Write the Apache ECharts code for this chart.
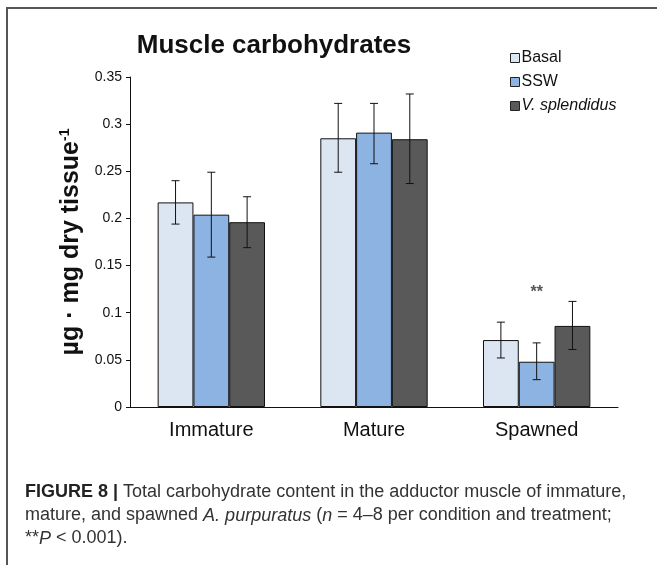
<!DOCTYPE html>
<html>
<head>
    <meta charset="utf-8">
    <title>muscle carbohydrates</title>
    <script src="https://cdn.jsdelivr.net/npm/echarts@6/dist/echarts.min.js"></script>
    <style>
        body { margin: 0; background: #fff; }
    </style>
</head>
<body>
<div id="main" style="width: 657px;height:565px;"></div>

<script type="text/javascript">
    // data
    var stages = ['Immature', 'Mature', 'Spawned'];
    var groups = ['Basal', 'SSW', 'V. splendidus'];
    var colors = ['#dce6f2', '#8db3e2', '#595959'];

    var basal = [0.217, 0.285, 0.071];
    var ssw = [0.204, 0.291, 0.048];
    var vsp = [0.196, 0.284, 0.086];

    // error bar ends (upper, lower)
    var basalHi = [0.240, 0.322, 0.090];
    var basalLo = [0.194, 0.249, 0.052];
    var sswHi = [0.249, 0.322, 0.068];
    var sswLo = [0.159, 0.258, 0.029];
    var vspHi = [0.223, 0.332, 0.112];
    var vspLo = [0.169, 0.237, 0.061];

    var yTicks = [0, 0.05, 0.1, 0.15, 0.2, 0.25, 0.3, 0.35];

    var values = [basal, ssw, vsp];
    var highs = [basalHi, sswHi, vspHi];
    var lows = [basalLo, sswLo, vspLo];

    var myChart = echarts.init(document.getElementById('main'));

    var gapPct = 0.34;

    function errorSeries(k) {
        var rows = stages.map(function (s, i) {
            return [i, highs[k][i], lows[k][i]];
        });
        return {
            type: 'custom',
            name: groups[k] + ' err',
            z: 5,
            silent: true,
            data: rows,
            renderItem: function (params, api) {
                var band = api.size([1, 0])[0];
                var bw = band * (1 - gapPct) / 3;
                var top = api.coord([api.value(0), api.value(1)]);
                var bot = api.coord([api.value(0), api.value(2)]);
                var x = top[0] + (k - 1) * bw;
                var cap = 4;
                var st = { stroke: '#111', lineWidth: 1 };
                return {
                    type: 'group',
                    children: [
                        { type: 'line', shape: { x1: x, y1: top[1], x2: x, y2: bot[1] }, style: st },
                        { type: 'line', shape: { x1: x - cap, y1: top[1], x2: x + cap, y2: top[1] }, style: st },
                        { type: 'line', shape: { x1: x - cap, y1: bot[1], x2: x + cap, y2: bot[1] }, style: st }
                    ]
                };
            }
        };
    }

    var series = [];
    for (var k = 0; k < 3; k++) {
        series.push({
            name: groups[k],
            type: 'bar',
            data: values[k],
            barGap: '0%',
            barCategoryGap: '34%',
            itemStyle: { color: colors[k], borderColor: '#111', borderWidth: 1 }
        });
    }
    for (var k2 = 0; k2 < 3; k2++) {
        series.push(errorSeries(k2));
    }
    // significance mark above the spawned group
    series[1].markPoint = {
        symbol: 'rect',
        symbolSize: 0,
        silent: true,
        label: { show: true, formatter: '**', color: '#555', fontSize: 16, fontWeight: 'bold', fontFamily: 'Liberation Sans' },
        data: [{ coord: [2, 0.121] }]
    };

    var option = {
        animation: false,
        textStyle: { fontFamily: 'Liberation Sans' },
        title: {
            text: 'Muscle carbohydrates',
            left: 269,
            top: 28,
            textAlign: 'center',
            textStyle: { fontSize: 26, fontWeight: 'bold', color: '#111', fontFamily: 'Liberation Sans' }
        },
        legend: {
            data: groups,
            orient: 'vertical',
            left: 505,
            top: 45,
            itemWidth: 9,
            itemHeight: 9,
            itemGap: 8,
            icon: 'rect',
            itemStyle: { borderColor: '#222', borderWidth: 1 },
            textStyle: {
                fontSize: 16, color: '#111', padding: [0, 0, 0, -3],
                rich: { i: { fontSize: 16, fontStyle: 'italic', color: '#111' } }
            },
            formatter: function (n) {
                return n === 'V. splendidus' ? '{i|' + n + '}' : n;
            }
        },
        grid: { left: 130, top: 77, right: 39, bottom: 158 },
        xAxis: {
            type: 'category',
            data: stages,
            axisTick: { show: false },
            axisLine: { lineStyle: { color: '#111', width: 1 } },
            axisLabel: { fontSize: 20, color: '#111', margin: 13 }
        },
        yAxis: {
            type: 'value',
            min: yTicks[0],
            max: yTicks[yTicks.length - 1],
            interval: 0.05,
            splitLine: { show: false },
            axisLine: { show: true, lineStyle: { color: '#111', width: 1 } },
            axisTick: { show: true, length: 4, lineStyle: { color: '#111' } },
            axisLabel: {
                fontSize: 14, color: '#111', margin: 8,
                formatter: function (v) { return String(+v.toFixed(2)); }
            },
            name: 'µg · mg dry tissue{s|-1}',
            nameLocation: 'middle',
            nameRotate: 90,
            nameGap: 44,
            nameTextStyle: {
                fontSize: 25, fontWeight: 'bold', color: '#111',
                rich: { s: { fontSize: 14, fontWeight: 'bold', color: '#111', verticalAlign: 'top', padding: [0, 0, 12, 0] } }
            }
        },
        graphic: [
            {
                type: 'rect',
                shape: { x: 7, y: 8, width: 700, height: 620 },
                style: { fill: 'none', stroke: '#555', lineWidth: 2 },
                silent: true
            },
            {
                type: 'text',
                left: 25,
                top: 481,
                style: {
                    text: '{b|FIGURE 8 |} Total carbohydrate content in the adductor muscle of immature,\n' +
                        'mature, and spawned {i|A. purpuratus} ({i|n} = 4–8 per condition and treatment;\n' +
                        '**{i|P} < 0.001).',
                    fontSize: 18,
                    lineHeight: 23,
                    fill: '#333',
                    fontFamily: 'Liberation Sans',
                    rich: {
                        b: { fontSize: 18, fontWeight: 'bold', fill: '#222' },
                        i: { fontSize: 18, fontStyle: 'italic', fill: '#333' }
                    }
                }
            }
        ],
        series: series
    };

    myChart.setOption(option);
</script>
</body>
</html>
